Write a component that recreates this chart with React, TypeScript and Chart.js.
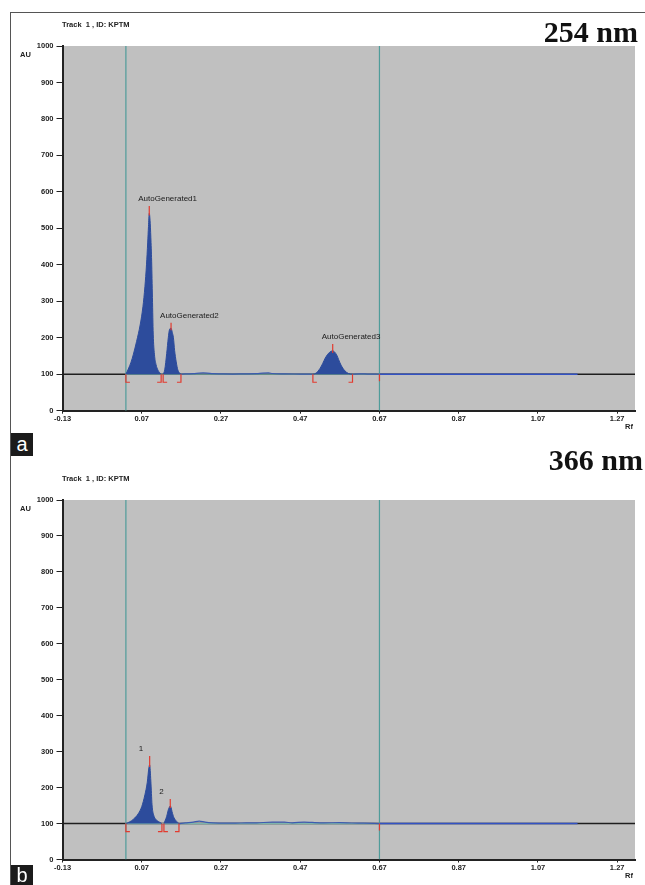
import React, { useEffect, useRef } from "react";
import { Chart, registerables } from "chart.js";

Chart.register(...registerables);

type Pt = [number, number];

// ---------- shared axis data ----------
const X_TICKS = [-0.13, 0.07, 0.27, 0.47, 0.67, 0.87, 1.07, 1.27];
const X_MIN = -0.13;
const X_MAX = 1.315;
const Y_TICKS = [0, 100, 200, 300, 400, 500, 600, 700, 800, 900, 1000];
const Y_MIN = 0;
const Y_MAX = 1000;
const BASELINE_AU = 100;
const TRACK_START = 0.03;
const TRACK_END = 0.67;
const SCAN_END = 1.17;
const VERTICAL_MARKERS = [0.03, 0.67];

// ---------- panel a : 254 nm ----------
const A_PEAK1: Pt[] = [
  [0.030, 100], [0.036, 114], [0.043, 133], [0.049, 155], [0.057, 190], [0.066, 235],
  [0.073, 285], [0.078, 340], [0.082, 400], [0.085, 460], [0.087, 505], [0.089, 541],
  [0.091, 522], [0.093, 475], [0.095, 410], [0.097, 310], [0.099, 210], [0.102, 155],
  [0.106, 127], [0.111, 111], [0.119, 100],
];
const A_PEAK2: Pt[] = [
  [0.124, 100], [0.128, 112], [0.133, 157], [0.137, 200], [0.140, 222], [0.144, 226],
  [0.147, 215], [0.150, 200], [0.153, 165], [0.157, 134], [0.161, 112], [0.165, 104],
  [0.169, 100],
];
const A_PEAK3: Pt[] = [
  [0.502, 100], [0.510, 103], [0.520, 116], [0.527, 130], [0.533, 144], [0.544, 160],
  [0.552, 164], [0.562, 153], [0.567, 140], [0.573, 125], [0.583, 109], [0.592, 102],
  [0.602, 100],
];
const A_NOISE1: Pt[] = [
  [0.169, 100], [0.18, 101], [0.20, 101.5], [0.215, 103], [0.225, 103.5], [0.235, 103],
  [0.25, 101.5], [0.27, 101], [0.30, 100.5], [0.33, 101], [0.36, 101.5], [0.375, 103],
  [0.39, 103.5], [0.40, 102], [0.43, 101], [0.47, 100.5], [0.502, 100],
];
const A_NOISE2: Pt[] = [[0.602, 100], [0.62, 101], [0.64, 100.5], [0.67, 100]];
const A_LABELS = ["AutoGenerated1", "AutoGenerated2", "AutoGenerated3"];
const A_MARK_TOPS = [561, 241, 183];
const A_BOUNDS: Pt[] = [[0.030, 0.119], [0.124, 0.169], [0.502, 0.602]];

// ---------- panel b : 366 nm ----------
const B_PEAK1: Pt[] = [
  [0.030, 100], [0.040, 105], [0.049, 112], [0.061, 127], [0.070, 147], [0.078, 180],
  [0.084, 215], [0.088, 255], [0.090, 263], [0.093, 218], [0.096, 152], [0.100, 124],
  [0.106, 111], [0.113, 105], [0.121, 100],
];
const B_PEAK2: Pt[] = [
  [0.126, 100], [0.133, 120], [0.137, 138], [0.140, 146], [0.142, 149], [0.1445, 143],
  [0.1465, 133], [0.1515, 116], [0.158, 106], [0.164, 100],
];
const B_NOISE1: Pt[] = [
  [0.164, 100], [0.18, 102], [0.20, 104], [0.215, 107], [0.23, 104], [0.25, 102],
  [0.28, 101], [0.32, 101.5], [0.36, 102], [0.40, 104], [0.43, 104], [0.45, 102],
  [0.48, 104], [0.50, 103], [0.53, 102], [0.57, 102.5], [0.60, 101.5], [0.63, 101],
  [0.67, 100],
];
const B_LABELS = ["1", "2"];
const B_MARK_TOPS = [288, 168];
const B_BOUNDS: Pt[] = [[0.030, 0.121], [0.126, 0.164]];

// ---------- styles ----------
const PLOT_BG = "#c0c0c0";
const PEAK_BLUE = "#2d4c9c";
const NOISE_BLUE = "#3c5bb0";
const SCAN_BLUE = "#3352c4";
const TEAL_BASE = "#7db5ab";
const TEAL_LINE = "#4f9c9a";
const MARK_RED = "#e23a2e";
const SANS = '"Liberation Sans", Arial, sans-serif';
const SERIF = '"Liberation Serif", "Times New Roman", serif';

type PanelSpec = {
  peaks: Pt[][];
  noise: Pt[][];
  labels: string[];
  tops: number[];
  bounds: Pt[];
};

const PANEL_A: PanelSpec = {
  peaks: [A_PEAK1, A_PEAK2, A_PEAK3],
  noise: [A_NOISE1, A_NOISE2],
  labels: A_LABELS,
  tops: A_MARK_TOPS,
  bounds: A_BOUNDS,
};
const PANEL_B: PanelSpec = {
  peaks: [B_PEAK1, B_PEAK2],
  noise: [B_NOISE1],
  labels: B_LABELS,
  tops: B_MARK_TOPS,
  bounds: B_BOUNDS,
};

const toXY = (pts: Pt[]) => pts.map(([x, y]) => ({ x, y }));

function Panel(props: {
  spec: PanelSpec;
  top: number;
  height: number;
  areaTop: number;
  areaBottom: number;
}) {
  const { spec, top, height, areaTop, areaBottom } = props;
  const ref = useRef<HTMLCanvasElement>(null);

  useEffect(() => {
    const canvas = ref.current;
    if (!canvas) return;
    const datasets: any[] = [];
    spec.peaks.forEach((pk) =>
      datasets.push({
        data: toXY(pk),
        borderColor: PEAK_BLUE,
        backgroundColor: PEAK_BLUE,
        borderWidth: 1,
        fill: { value: BASELINE_AU },
        pointRadius: 0,
        cubicInterpolationMode: "monotone",
        order: 1,
      })
    );
    spec.noise.forEach((n) =>
      datasets.push({
        data: toXY(n),
        borderColor: NOISE_BLUE,
        borderWidth: 1.2,
        fill: false,
        pointRadius: 0,
        cubicInterpolationMode: "monotone",
        order: 2,
      })
    );
    datasets.push({
      data: toXY([[TRACK_START, BASELINE_AU], [TRACK_END, BASELINE_AU]]),
      borderColor: TEAL_BASE,
      borderWidth: 1.2,
      pointRadius: 0,
      fill: false,
      order: 3,
    });
    datasets.push({
      data: toXY([[TRACK_END, BASELINE_AU], [SCAN_END, BASELINE_AU]]),
      borderColor: SCAN_BLUE,
      borderWidth: 1.5,
      pointRadius: 0,
      fill: false,
      order: 3,
    });
    VERTICAL_MARKERS.forEach((v) =>
      datasets.push({
        data: toXY([[v, Y_MIN], [v, Y_MAX]]),
        borderColor: TEAL_LINE,
        borderWidth: 1.2,
        pointRadius: 0,
        fill: false,
        order: 4,
      })
    );
    datasets.push({
      data: toXY([[X_MIN, BASELINE_AU], [X_MAX, BASELINE_AU]]),
      borderColor: "#1e1e1e",
      borderWidth: 1.5,
      pointRadius: 0,
      fill: false,
      order: 5,
    });

    const bgPlugin = {
      id: "plotBg",
      beforeDraw(chart: any) {
        const { ctx, chartArea: a } = chart;
        ctx.save();
        ctx.fillStyle = PLOT_BG;
        ctx.fillRect(a.left, a.top, a.right - a.left, a.bottom - a.top);
        ctx.restore();
      },
    };

    const marksPlugin = {
      id: "peakMarks",
      afterDatasetsDraw(chart: any) {
        const { ctx } = chart;
        const xs = chart.scales.x;
        const ys = chart.scales.y;
        const by = ys.getPixelForValue(BASELINE_AU);
        ctx.save();
        ctx.strokeStyle = MARK_RED;
        ctx.lineWidth = 1.2;
        spec.peaks.forEach((pk, i) => {
          const apex = pk.reduce((m, p) => (p[1] > m[1] ? p : m));
          const ax = xs.getPixelForValue(apex[0]);
          const ay = ys.getPixelForValue(apex[1]);
          const ty = ys.getPixelForValue(spec.tops[i]);
          ctx.beginPath();
          ctx.moveTo(ax, ay + 2);
          ctx.lineTo(ax, ty);
          ctx.stroke();
          const sx = xs.getPixelForValue(spec.bounds[i][0]);
          const ex = xs.getPixelForValue(spec.bounds[i][1]);
          ctx.beginPath();
          ctx.moveTo(sx, by);
          ctx.lineTo(sx, by + 8);
          ctx.lineTo(sx + 4, by + 8);
          ctx.moveTo(ex, by);
          ctx.lineTo(ex, by + 8);
          ctx.lineTo(ex - 4, by + 8);
          ctx.stroke();
          ctx.fillStyle = "#1a1a1a";
          ctx.font = `8px ${SANS}`;
          ctx.textAlign = "left";
          ctx.textBaseline = "middle";
          ctx.fillText(spec.labels[i], ax - 11, ty - 7);
        });
        const ex = xs.getPixelForValue(TRACK_END);
        ctx.beginPath();
        ctx.moveTo(ex, by);
        ctx.lineTo(ex, by + 7);
        ctx.stroke();
        ctx.restore();
      },
    };

    const tickFont = { size: 7.5, family: SANS, weight: "bold" as const };

    const chart = new Chart(canvas, {
      type: "line",
      data: { datasets },
      options: {
        animation: false,
        responsive: false,
        maintainAspectRatio: false,
        events: [],
        layout: { padding: { top: areaTop, right: 10, left: 0, bottom: 0 } },
        plugins: { legend: { display: false }, tooltip: { enabled: false } },
        scales: {
          x: {
            type: "linear",
            min: X_MIN,
            max: X_MAX,
            afterBuildTicks: (s: any) => {
              s.ticks = X_TICKS.map((v) => ({ value: v }));
            },
            afterFit: (s: any) => {
              s.height = height - areaBottom;
            },
            ticks: {
              autoSkip: false,
              maxRotation: 0,
              font: tickFont,
              color: "#222",
              padding: 1,
              callback: (v: any) => Number(v).toFixed(2),
            },
            grid: {
              drawOnChartArea: false,
              drawTicks: true,
              tickLength: 3,
              color: "#222",
              lineWidth: 1,
            },
            border: { display: true, color: "#222", width: 2 },
          },
          y: {
            type: "linear",
            min: Y_MIN,
            max: Y_MAX,
            afterBuildTicks: (s: any) => {
              s.ticks = Y_TICKS.map((v) => ({ value: v }));
            },
            afterFit: (s: any) => {
              s.width = 62.5;
            },
            ticks: {
              font: tickFont,
              color: "#222",
              padding: 3,
              callback: (v: any) => String(Math.round(Number(v))),
            },
            grid: {
              drawOnChartArea: false,
              drawTicks: true,
              tickLength: 6,
              color: "#222",
              lineWidth: 1,
            },
            border: { display: true, color: "#222", width: 2 },
          },
        },
      } as any,
      plugins: [bgPlugin, marksPlugin],
    });
    return () => chart.destroy();
  }, []);

  const small: React.CSSProperties = {
    position: "absolute",
    fontFamily: SANS,
    fontSize: 7.5,
    fontWeight: "bold",
    color: "#222",
    lineHeight: "10px",
    height: 10,
    whiteSpace: "pre",
  };

  return (
    <>
      <canvas
        ref={ref}
        width={645}
        height={height}
        style={{ position: "absolute", left: 0, top, width: 645, height }}
      />
      <div style={{ ...small, left: 62, top: top + areaTop - 26 }}>{"Track  1 , ID: KPTM"}</div>
      <div style={{ ...small, left: 20, top: top + areaTop + 4 }}>AU</div>
      <div style={{ ...small, left: 625, top: top + areaBottom + 11 }}>Rf</div>
    </>
  );
}

const badge: React.CSSProperties = {
  position: "absolute",
  left: 11,
  width: 22,
  background: "#1b1b1b",
  color: "#fff",
  fontFamily: SANS,
  fontSize: 20,
  textAlign: "center",
};

const title: React.CSSProperties = {
  position: "absolute",
  fontFamily: SERIF,
  fontWeight: "bold",
  fontSize: 30,
  lineHeight: "30px",
  color: "#111",
  whiteSpace: "nowrap",
};

export default function App() {
  return (
    <div
      style={{
        position: "absolute",
        left: 0,
        top: 0,
        width: 645,
        height: 885,
        background: "#fff",
        overflow: "hidden",
      }}
    >
      <div
        style={{
          position: "absolute",
          left: 10,
          top: 12,
          width: 635,
          height: 873,
          borderLeft: "1.5px solid #555",
          borderTop: "1.5px solid #555",
        }}
      />
      <Panel spec={PANEL_A} top={0} height={440} areaTop={46} areaBottom={410.7} />
      <Panel spec={PANEL_B} top={440} height={445} areaTop={60} areaBottom={419.5} />
      <div style={{ ...title, right: 7, top: 17 }}>254 nm</div>
      <div style={{ ...title, right: 2, top: 445 }}>366 nm</div>
      <div style={{ ...badge, top: 433, height: 23, lineHeight: "22px" }}>a</div>
      <div style={{ ...badge, top: 865, height: 22, lineHeight: "21px" }}>b</div>
    </div>
  );
}
